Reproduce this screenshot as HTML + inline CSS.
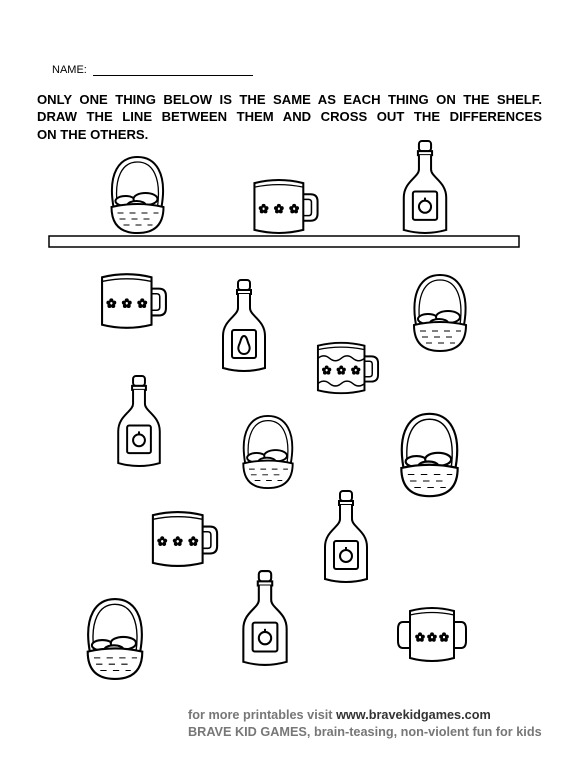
<!DOCTYPE html>
<html><head><meta charset="utf-8"><style>
html,body{margin:0;padding:0;background:#fff;}
body{width:571px;height:765px;position:relative;overflow:hidden;font-family:"Liberation Sans",Arial,sans-serif;}
.t{position:absolute;white-space:nowrap;}
.h{position:absolute;left:37px;width:505px;font-size:13.1px;font-weight:bold;text-align:justify;text-align-last:justify;white-space:nowrap;}
svg{position:absolute;left:0;top:0;}
</style></head><body>
<div class="t" style="left:52px;top:64px;font-size:11px;">NAME:</div>
<div style="position:absolute;left:93px;top:75px;width:160px;border-top:1px solid #000;"></div>
<div class="h" style="top:92px;">ONLY ONE THING BELOW IS THE SAME AS EACH THING ON THE SHELF.</div>
<div class="h" style="top:109px;">DRAW THE LINE BETWEEN THEM AND CROSS OUT THE DIFFERENCES</div>
<div class="h" style="top:127px;text-align-last:left;">ON THE OTHERS.</div>
<div class="t" style="left:188px;top:708px;font-size:12.7px;font-weight:bold;color:#777;">for more printables visit <span style="color:#333">www.bravekidgames.com</span></div>
<div class="t" style="left:188px;top:725px;font-size:12.7px;font-weight:bold;color:#777;">BRAVE KID GAMES, brain-teasing, non-violent fun for kids</div>
<svg width="571" height="765">
<defs>
 <g id="fl" fill="#000"><circle cx="0" cy="-2.6" r="2"/><circle cx="2.8" cy="-0.4" r="2"/><circle cx="-2.8" cy="-0.4" r="2"/><circle cx="-1.8" cy="2.8" r="2"/><circle cx="1.8" cy="2.8" r="2"/><circle cx="0" cy="0" r="1" fill="#fff"/></g>
<symbol id="basket" viewBox="0 0 60 80">
 <g fill="none" stroke="#000" stroke-width="2">
 <path d="M6 52 C0 18 12 2 30 2 C48 2 60 18 54 52"/>
 <path d="M10 52 C6 22 15 7 30 7 C45 7 54 22 50 52" stroke-width="1.3"/>
 <ellipse cx="18" cy="46" rx="10" ry="5" fill="#fff"/>
 <ellipse cx="38" cy="44" rx="12" ry="6" fill="#fff"/>
 <ellipse cx="29" cy="50" rx="9" ry="4" fill="#fff"/>
 <path d="M4 52 Q30 46 56 52 Q56 78 30 78 Q4 78 4 52 Z" fill="#fff"/>
 <path d="M10 58h6M22 58h6M34 58h6M46 58h5M12 64h6M24 64h6M36 64h6M16 70h6M28 70h6M40 70h5" stroke-width="1"/>
 </g>
</symbol>
<symbol id="mug" viewBox="0 0 66 56">
 <g fill="none" stroke="#000" stroke-width="2">
 <path d="M50 16 h7 q7 0 7 7 v12 q0 7 -7 7 h-7"/>
 <path d="M50 21 h5 q3 0 3 3 v10 q0 3 -3 3 h-5" stroke-width="1.5"/>
 <path d="M2 5 Q26 -1 50 5 V51 Q26 57 2 51 Z" fill="#fff"/>
 <path d="M2 9 Q26 4 50 9" stroke-width="1.3"/>
 </g>
 <use href="#fl" x="11" y="30"/><use href="#fl" x="26" y="30"/><use href="#fl" x="41" y="30"/>
</symbol>
<symbol id="mug2" viewBox="0 0 66 56">
 <use href="#mug" width="66" height="56"/>
 <path d="M2 18 q6 -5 12 0 t12 0 t12 0 t12 0 M2 44 q6 -5 12 0 t12 0 t12 0 t12 0" fill="none" stroke="#000" stroke-width="1.5"/>
</symbol>
<symbol id="mug3" viewBox="0 0 72 58">
 <g fill="none" stroke="#000" stroke-width="2">
 <path d="M58 16 h7 q5 0 5 7 v12 q0 7 -5 7 h-7"/>
 <path d="M14 16 h-7 q-5 0 -5 7 v12 q0 7 5 7 h7"/>
 <path d="M14 5 Q36 -1 58 5 V52 Q36 58 14 52 Z" fill="#fff"/>
 <path d="M14 9 Q36 4 58 9" stroke-width="1.3"/>
 </g>
 <use href="#fl" x="24" y="31"/><use href="#fl" x="36" y="31"/><use href="#fl" x="48" y="31"/>
</symbol>
<symbol id="bottle" viewBox="0 0 48 96">
 <g fill="none" stroke="#000" stroke-width="2">
 <rect x="18" y="2" width="12" height="10" rx="3" fill="#fff"/>
 <path d="M17 12 h14 v4 h-14 z" fill="#fff"/>
 <path d="M18 16 V30 C18 38 3 42 3 58 V90 Q24 96 45 90 V58 C45 42 30 38 30 30 V16" fill="#fff"/>
 <rect x="12" y="52" width="24" height="28" rx="2"/>
 <circle cx="24" cy="67" r="6"/><path d="M24 61 v-3"/>
 </g>
</symbol>
<symbol id="bottle2" viewBox="0 0 48 96">
 <g fill="none" stroke="#000" stroke-width="2">
 <rect x="18" y="2" width="12" height="10" rx="3" fill="#fff"/>
 <path d="M17 12 h14 v4 h-14 z" fill="#fff"/>
 <path d="M18 16 V30 C18 38 3 42 3 58 V90 Q24 96 45 90 V58 C45 42 30 38 30 30 V16" fill="#fff"/>
 <rect x="12" y="52" width="24" height="28" rx="2"/>
 <path d="M24 58 c-3 0 -3 5 -5 9 c-2 5 1 9 5 9 c4 0 7 -4 5 -9 c-2 -4 -2 -9 -5 -9z"/>
 </g>
</symbol>
</defs>
<use href="#basket" x="105" y="155" width="65" height="80" preserveAspectRatio="none"/>
<use href="#mug" x="252" y="178" width="68" height="57" preserveAspectRatio="none"/>
<use href="#bottle" x="400" y="139" width="50" height="97" preserveAspectRatio="none"/>
<rect x="49" y="236" width="470" height="11" fill="#fff" stroke="#000" stroke-width="1.5"/>

<use href="#mug" x="100" y="272" width="68" height="58" preserveAspectRatio="none"/>
<use href="#bottle2" x="220" y="274" width="48" height="104" preserveAspectRatio="none"/>
<use href="#basket" x="410" y="270" width="60" height="86" preserveAspectRatio="none"/>
<use href="#mug2" x="316" y="340" width="64" height="56" preserveAspectRatio="none"/>
<use href="#bottle" x="115" y="374" width="48" height="95" preserveAspectRatio="none"/>
<use href="#basket" x="238" y="414" width="60" height="76" preserveAspectRatio="none"/>
<use href="#basket" x="397" y="398" width="65" height="114" preserveAspectRatio="none"/>
<use href="#mug" x="150" y="510" width="70" height="58" preserveAspectRatio="none"/>
<use href="#bottle" x="322" y="488" width="48" height="98" preserveAspectRatio="none"/>
<use href="#basket" x="83" y="597" width="64" height="84" preserveAspectRatio="none"/>
<use href="#bottle" x="240" y="569" width="50" height="99" preserveAspectRatio="none"/>
<use href="#mug3" x="396" y="606" width="72" height="58" preserveAspectRatio="none"/>
</svg>
</body></html>
